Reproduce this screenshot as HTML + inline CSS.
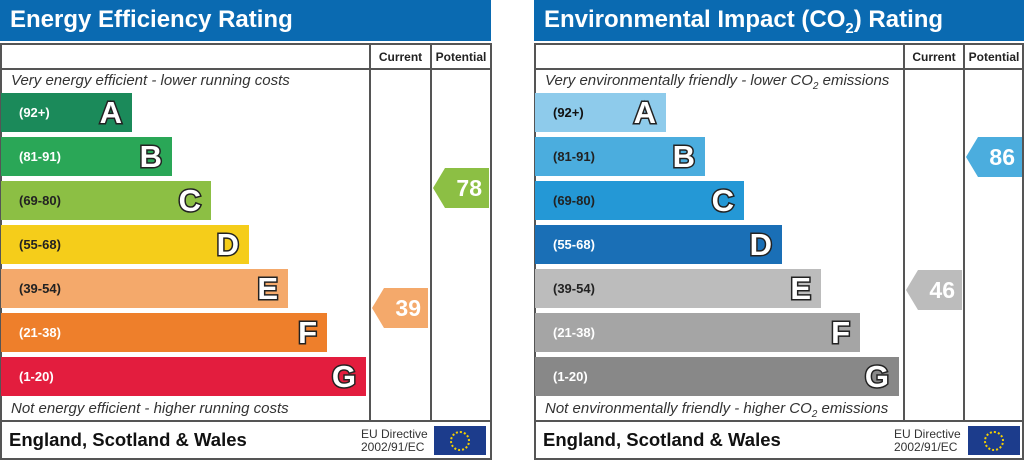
<!DOCTYPE html>
<html><head><meta charset="utf-8"><style>
*{margin:0;padding:0;box-sizing:border-box}
body{width:1024px;height:460px;background:#fff;position:relative;overflow:hidden;font-family:"Liberation Sans",Arial,sans-serif}
.a{position:absolute}
.hdr{background:#0a6ab1;color:#fff;font-weight:bold;font-size:24px;padding:6px 0 0 10px;height:41px;white-space:nowrap}
.frame{border:2px solid #555;}
.ln{background:#555}
.bar{height:39px;left:1px}
.rng{position:absolute;left:18px;top:12px;font-size:13px;font-weight:bold}
.let{position:absolute;right:10px;top:2px;font-size:31px;font-weight:bold;color:#fff;-webkit-text-stroke:3px #222;paint-order:stroke fill}
.it{font-style:italic;font-size:15px;color:#333;white-space:nowrap}
.col{font-size:12px;font-weight:bold;color:#222;text-align:center}
.arr{height:40px;width:56px;color:#fff;font-weight:bold;font-size:23px;text-align:right;padding:7px 7px 0 0;clip-path:polygon(0 50%,12px 0,100% 0,100% 100%,12px 100%)}
.ft{font-weight:bold;font-size:18.5px;color:#111;white-space:nowrap}
.eu{font-size:12px;color:#333;line-height:13px}
.flag{background:#1c3c8c;width:52px;height:29px}
</style></head><body>

<!-- LEFT PANEL -->
<div class="a hdr" style="left:0;top:0;width:491px">Energy Efficiency Rating</div>
<div class="a frame" style="left:0;top:43px;width:492px;height:417px"></div>
<div class="a ln" style="left:0;top:68px;width:492px;height:2px"></div>
<div class="a ln" style="left:369px;top:43px;width:2px;height:378px"></div>
<div class="a ln" style="left:430px;top:43px;width:2px;height:378px"></div>
<div class="a ln" style="left:0;top:420px;width:492px;height:2px"></div>
<div class="a col" style="left:371px;top:50px;width:59px">Current</div>
<div class="a col" style="left:432px;top:50px;width:58px">Potential</div>
<div class="a it" style="left:11px;top:72px">Very energy efficient - lower running costs</div>
<div class="a it" style="left:11px;top:400px">Not energy efficient - higher running costs</div>
<div class="a bar" style="top:93px;width:131px;background:#1b8a5a"><span class="rng" style="color:#fff">(92+)</span><span class="let">A</span></div>
<div class="a bar" style="top:137px;width:171px;background:#2aa757"><span class="rng" style="color:#fff">(81-91)</span><span class="let">B</span></div>
<div class="a bar" style="top:181px;width:210px;background:#8cbf44"><span class="rng" style="color:#222">(69-80)</span><span class="let">C</span></div>
<div class="a bar" style="top:225px;width:248px;background:#f5cd1a"><span class="rng" style="color:#222">(55-68)</span><span class="let">D</span></div>
<div class="a bar" style="top:269px;width:287px;background:#f4a96b"><span class="rng" style="color:#222">(39-54)</span><span class="let">E</span></div>
<div class="a bar" style="top:313px;width:326px;background:#ee7f2b"><span class="rng" style="color:#fff">(21-38)</span><span class="let">F</span></div>
<div class="a bar" style="top:357px;width:365px;background:#e31d3e"><span class="rng" style="color:#fff">(1-20)</span><span class="let">G</span></div>
<div class="a arr" style="left:372px;top:288px;background:#f4a96b">39</div>
<div class="a arr" style="left:433px;top:168px;background:#8cbf44">78</div>
<div class="a ft" style="left:9px;top:429px">England, Scotland &amp; Wales</div>
<div class="a eu" style="left:361px;top:428px">EU Directive<br>2002/91/EC</div>
<div class="a flag" style="left:434px;top:426px"></div>
<div class="a" style="left:450px;top:431px;width:20px;height:20px;border:2px dotted #f5d000;border-radius:50%"></div>

<!-- RIGHT PANEL -->
<div class="a hdr" style="left:534px;top:0;width:490px">Environmental Impact (CO<sub style="font-size:15px">2</sub>) Rating</div>
<div class="a frame" style="left:534px;top:43px;width:490px;height:417px"></div>
<div class="a ln" style="left:534px;top:68px;width:490px;height:2px"></div>
<div class="a ln" style="left:903px;top:43px;width:2px;height:378px"></div>
<div class="a ln" style="left:963px;top:43px;width:2px;height:378px"></div>
<div class="a ln" style="left:534px;top:420px;width:490px;height:2px"></div>
<div class="a col" style="left:905px;top:50px;width:58px">Current</div>
<div class="a col" style="left:965px;top:50px;width:58px">Potential</div>
<div class="a it" style="left:545px;top:72px">Very environmentally friendly - lower CO<sub style="font-size:10px">2</sub> emissions</div>
<div class="a it" style="left:545px;top:400px">Not environmentally friendly - higher CO<sub style="font-size:10px">2</sub> emissions</div>
<div class="a bar" style="left:535px;top:93px;width:131px;background:#8ecbeb"><span class="rng" style="color:#111">(92+)</span><span class="let">A</span></div>
<div class="a bar" style="left:535px;top:137px;width:170px;background:#4badde"><span class="rng" style="color:#222">(81-91)</span><span class="let">B</span></div>
<div class="a bar" style="left:535px;top:181px;width:209px;background:#2498d6"><span class="rng" style="color:#222">(69-80)</span><span class="let">C</span></div>
<div class="a bar" style="left:535px;top:225px;width:247px;background:#1a6fb6"><span class="rng" style="color:#fff">(55-68)</span><span class="let">D</span></div>
<div class="a bar" style="left:535px;top:269px;width:286px;background:#bcbcbc"><span class="rng" style="color:#222">(39-54)</span><span class="let">E</span></div>
<div class="a bar" style="left:535px;top:313px;width:325px;background:#a5a5a5"><span class="rng" style="color:#fff">(21-38)</span><span class="let">F</span></div>
<div class="a bar" style="left:535px;top:357px;width:364px;background:#888"><span class="rng" style="color:#fff">(1-20)</span><span class="let">G</span></div>
<div class="a arr" style="left:906px;top:270px;background:#bcbcbc">46</div>
<div class="a arr" style="left:966px;top:137px;background:#4badde">86</div>
<div class="a ft" style="left:543px;top:429px">England, Scotland &amp; Wales</div>
<div class="a eu" style="left:894px;top:428px">EU Directive<br>2002/91/EC</div>
<div class="a flag" style="left:968px;top:426px"></div>
<div class="a" style="left:984px;top:431px;width:20px;height:20px;border:2px dotted #f5d000;border-radius:50%"></div>
</body></html>
